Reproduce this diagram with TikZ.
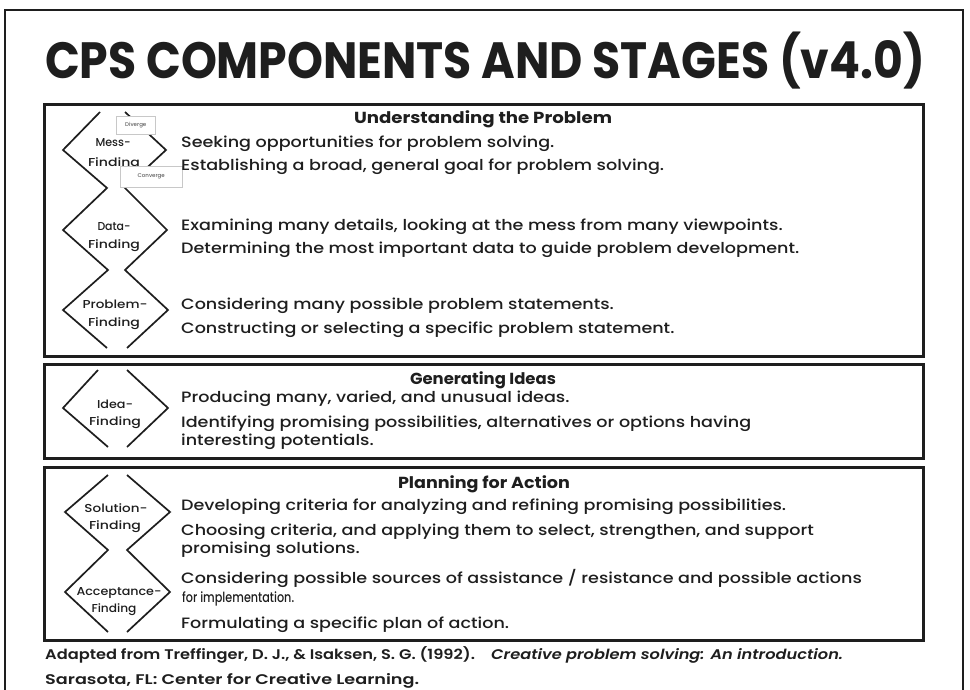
\documentclass[tikz,border=0pt]{standalone}
\usepackage{fontspec}
\usepackage{graphicx}
\setmainfont{Poppins}[UprightFont={Poppins Medium}, BoldFont={Poppins Bold}, ItalicFont={Poppins Medium Italic}, BoldItalicFont={Poppins SemiBold Italic}]
\newfontfamily\footfont{Poppins SemiBold}[ItalicFont={Poppins SemiBold Italic}]
\newcommand\fitw[2]{\setbox0\hbox{#2}\scalebox{\fpeval{(#1)/(\the\wd0)}}[1]{\copy0}}
\newcommand\bodysize{\fontsize{15}{17}\selectfont}
\newcommand\bl[1]{\scalebox{\bodyk}[1]{#1}}
\definecolor{ink}{HTML}{1E1E1E}
\definecolor{faint}{HTML}{C8C8C8}
\tikzset{
  frame/.style={draw=ink, line width=1.6},
  panel/.style={draw=ink, line width=2.6},
  zig/.style={draw=ink, line width=1.7, line join=miter},
  body/.style={text=ink, inner sep=0, font=\bodysize, anchor=base west},
  head/.style={text=ink, inner sep=0, font=\fontsize{16}{18}\selectfont\bfseries, anchor=base},
  lbl/.style={text=ink, inner sep=0, font=\fontsize{11.5}{13}\selectfont, anchor=base},
  tag/.style={draw=faint, fill=white, line width=0.6, inner sep=0, text=ink!70, font=\fontsize{5.5}{6}\selectfont},
  foot/.style={text=ink, inner sep=0, font=\fontsize{14}{16}\footfont, anchor=base west},
}
\begin{document}
\setbox2\hbox{\bodysize Examining many details, looking at the mess from many viewpoints.Determining the most important data to guide problem development.Developing criteria for analyzing and refining promising possibilities.Choosing criteria, and applying them to select, strengthen, and supportConsidering possible sources of assistance / resistance and possible actions}%
\edef\bodyk{\fpeval{(615+616+602+632+673)/(\the\wd2)}}%
\begin{tikzpicture}[x=1pt, y=-1pt]
\useasboundingbox (0,0) rectangle (970,690);
% outer frame
\coordinate (oa) at (5,700);
\coordinate (ob) at (5,10);
\coordinate (oc) at (963,10);
\coordinate (od) at (963,700);
\draw[frame] (oa) -- (ob) -- (oc) -- (od);
% title
\node[text=ink, inner sep=0, anchor=base, font=\fontsize{51}{54}\selectfont\bfseries] (title) at (485,79) {\fitw{880}{CPS COMPONENTS AND STAGES (v4.0)}};
% panels
\node[panel, minimum width=879, minimum height=252, anchor=north west, inner sep=0] (p1) at (43,103) {};
\node[panel, minimum width=879, minimum height=94, anchor=north west, inner sep=0] (p2) at (43,363) {};
\node[panel, minimum width=879, minimum height=173, anchor=north west, inner sep=0] (p3) at (43,466) {};
% zigzags panel 1
\draw[zig] (100,112) -- (63,150) -- (107,188) -- (63,230) -- (108,270) -- (63,310) -- (107,348);
\draw[zig] (125,112) -- (166,150) -- (125,188) -- (167,230) -- (125,270) -- (168,310) -- (127,348);
% panel 2
\draw[zig] (98,370) -- (63,408) -- (108,447);
\draw[zig] (127,370) -- (168,408) -- (127,447);
% panel 3
\draw[zig] (108,475) -- (65,512) -- (108,550) -- (65,592) -- (108,632);
\draw[zig] (127,475) -- (170,512) -- (127,550) -- (170,592) -- (127,632);
% stage labels
\node[lbl] (m1) at (113,147) {\fitw{35}{Mess-}};
\node[lbl] (m2) at (114,167) {\fitw{52}{Finding}};
\node[lbl] (d1) at (114,230) {\fitw{33}{Data-}};
\node[lbl] (d2) at (114,248) {\fitw{52}{Finding}};
\node[lbl] (r1) at (115,308) {\fitw{65}{Problem-}};
\node[lbl] (r2) at (114,326) {\fitw{52}{Finding}};
\node[lbl] (i1) at (115,408) {\fitw{36}{Idea-}};
\node[lbl] (i2) at (115,425) {\fitw{52}{Finding}};
\node[lbl] (s1) at (116,512) {\fitw{63}{Solution-}};
\node[lbl] (s2) at (115,529) {\fitw{52}{Finding}};
\node[lbl] (a1) at (119,595) {\fitw{85}{Acceptance-}};
\node[lbl] (a2) at (114,612) {\fitw{45}{Finding}};
% diverge / converge tags
\node[tag, minimum width=39, minimum height=18, anchor=north west] (dv) at (116,116) {Diverge};
\node[tag, minimum width=62, minimum height=21, anchor=north west] (cv) at (120,166) {Converge};
% headings
\node[head] (h1) at (483,124) {\fitw{258}{Understanding the Problem}};
\node[head] (h2) at (483,384) {\fitw{146}{Generating Ideas}};
\node[head] (h3) at (484,488) {\fitw{172}{Planning for Action}};
% body lines
\node[body] (b1) at (181,148) {\bl{Seeking opportunities for problem solving.}};
\node[body] (b2) at (181,171) {\bl{Establishing a broad, general goal for problem solving.}};
\node[body] (b3) at (181,230) {\bl{Examining many details, looking at the mess from many viewpoints.}};
\node[body] (b4) at (181,254) {\bl{Determining the most important data to guide problem development.}};
\node[body] (b5) at (181,309) {\bl{Considering many possible problem statements.}};
\node[body] (b6) at (181,333) {\bl{Constructing or selecting a specific problem statement.}};
\node[body] (b7) at (181,402) {\bl{Producing many, varied, and unusual ideas.}};
\node[body] (b8) at (181,427) {\bl{Identifying promising possibilities, alternatives or options having}};
\node[body] (b9) at (181,445) {\bl{interesting potentials.}};
\node[body] (b10) at (181,510) {\bl{Developing criteria for analyzing and refining promising possibilities.}};
\node[body] (b11) at (181,535) {\bl{Choosing criteria, and applying them to select, strengthen, and support}};
\node[body] (b12) at (181,553) {\bl{promising solutions.}};
\node[body] (b13) at (181,583) {\bl{Considering possible sources of assistance / resistance and possible actions}};
\node[body, font=\fontsize{14}{16}\selectfont] (b14) at (182,602) {\fitw{112}{for implementation.}};
\node[body] (b15) at (181,628) {\bl{Formulating a specific plan of action.}};
% footer
\node[foot] (f1) at (45,659) {\fitw{798}{Adapted from Treffinger, D. J., \& Isaksen, S. G. (1992).\quad\textit{Creative problem solving: An introduction.}}};
\node[foot] (f2) at (45,684) {\fitw{374}{Sarasota, FL: Center for Creative Learning.}};
\end{tikzpicture}
\end{document}
